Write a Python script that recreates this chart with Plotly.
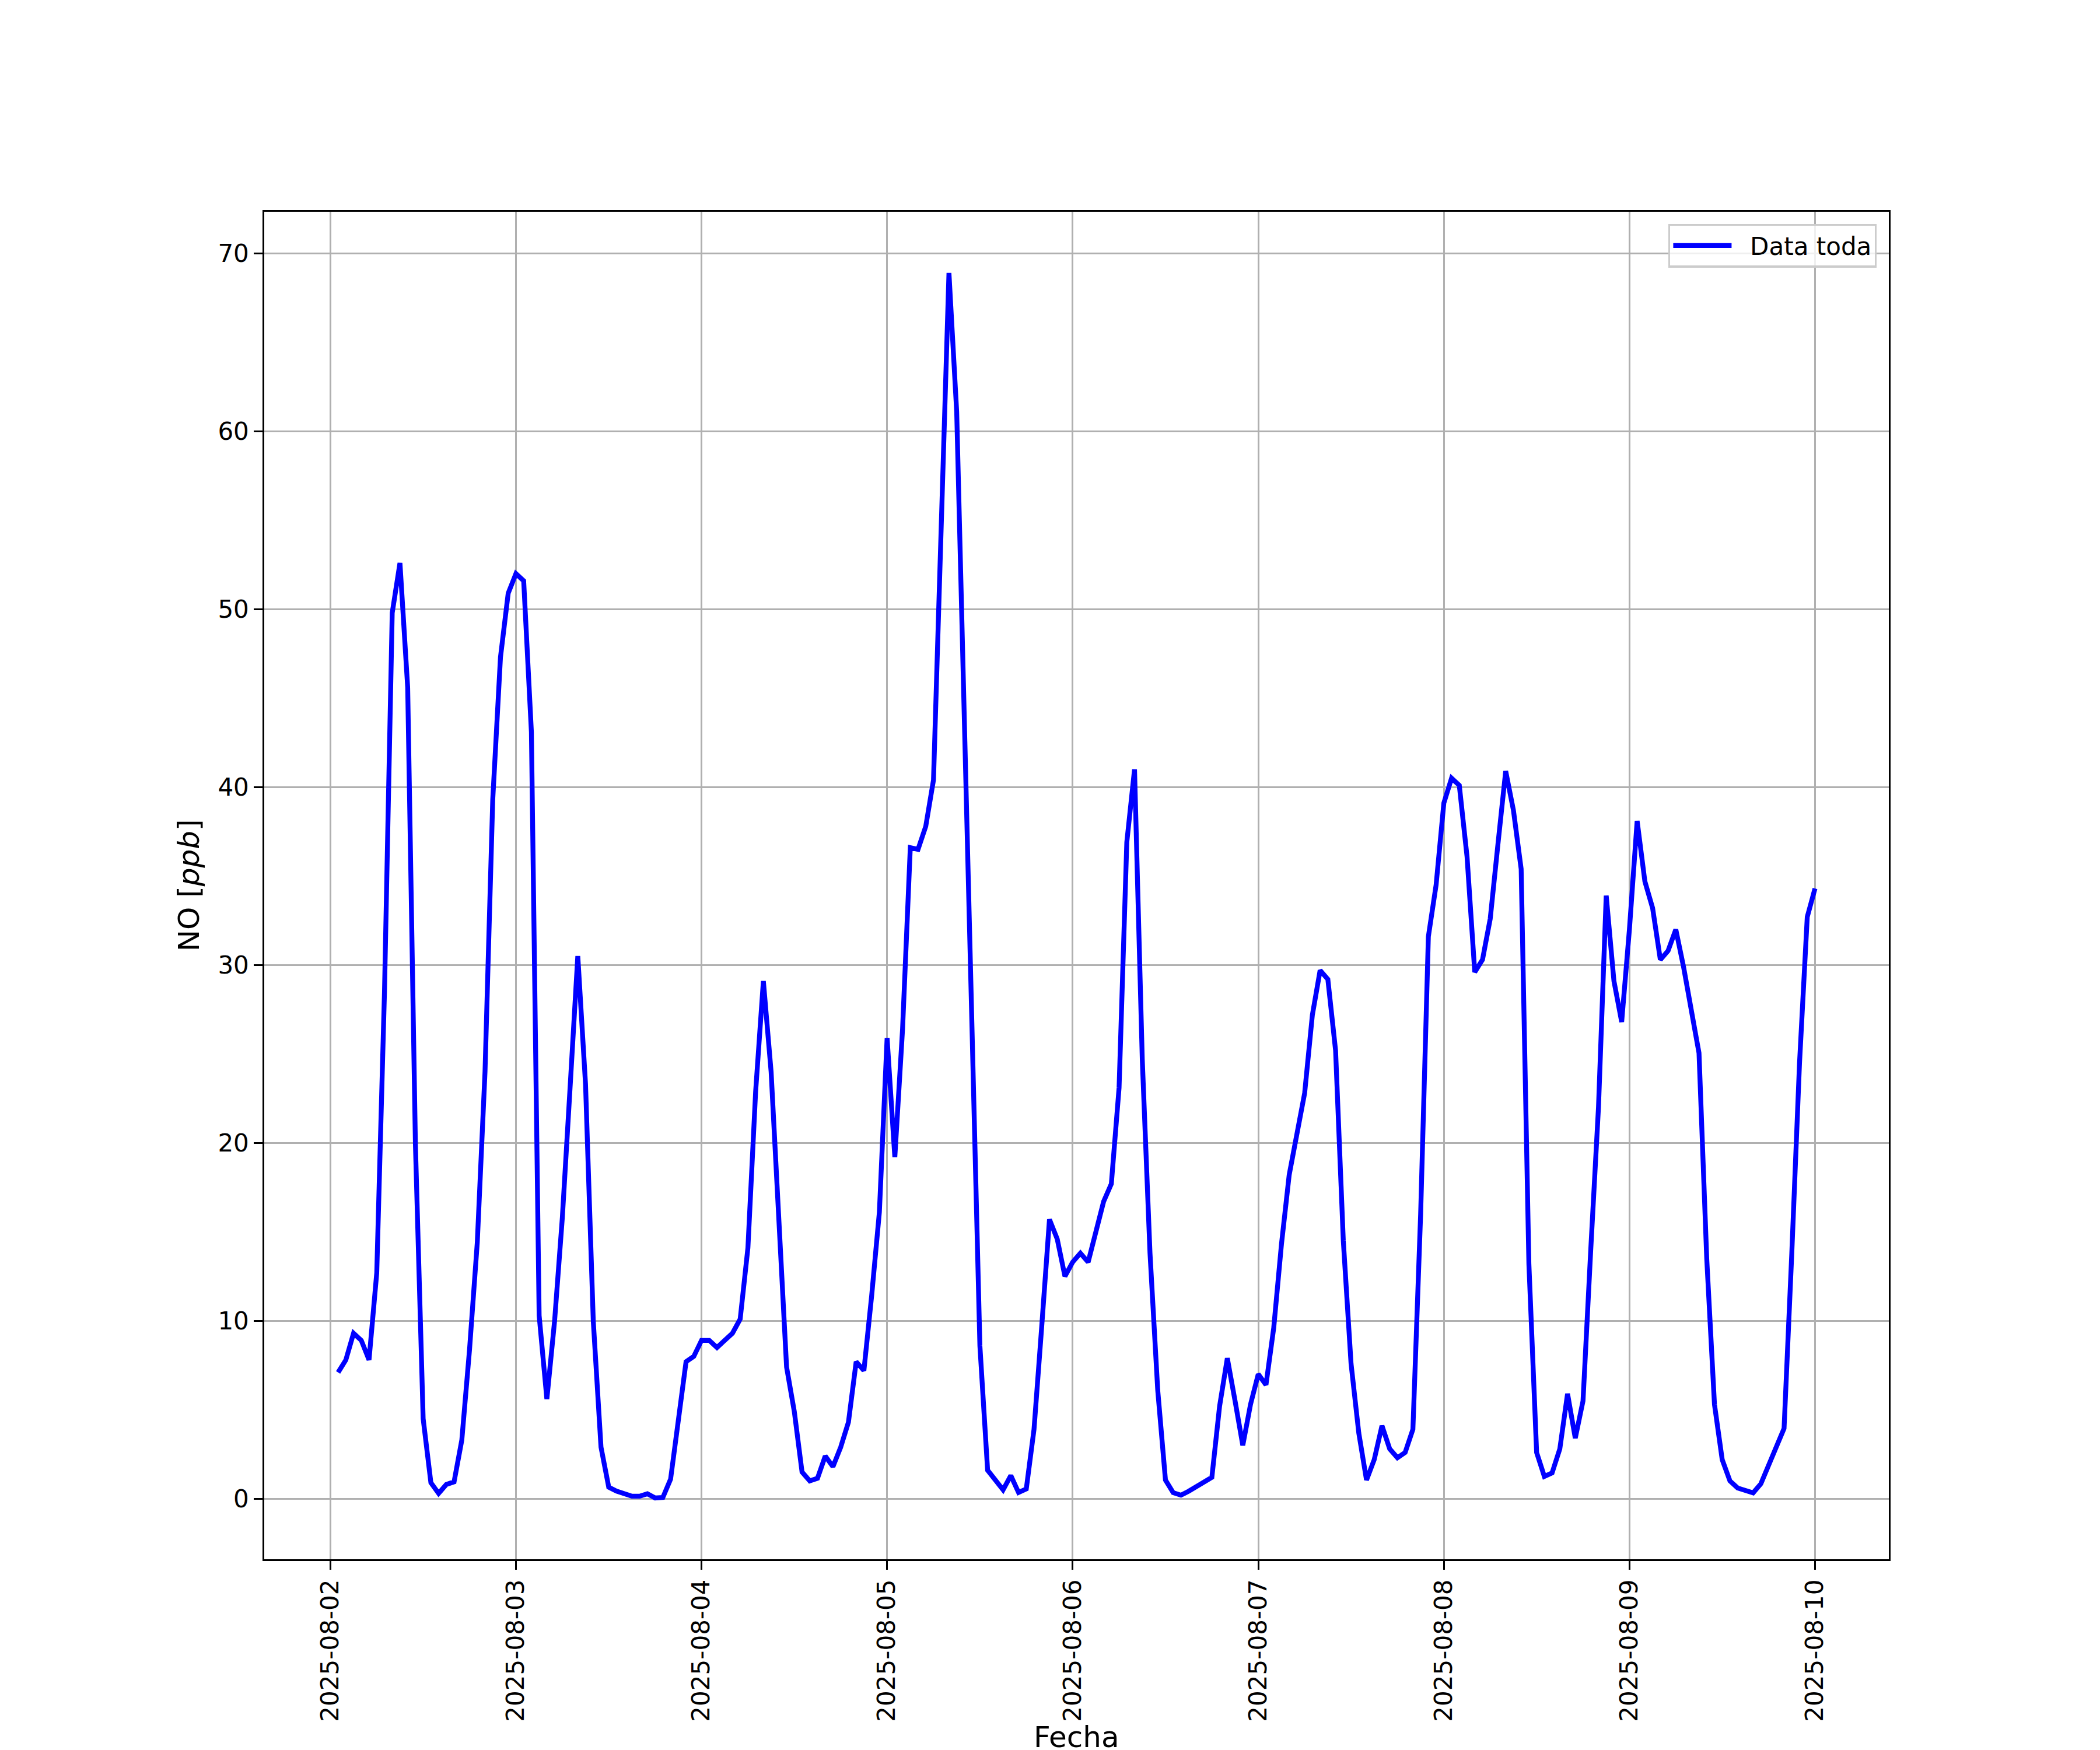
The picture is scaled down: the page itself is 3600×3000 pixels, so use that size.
import pandas as pd
import plotly.graph_objects as go

# NO [ppb] hourly readings, 2025-08-02 01:00 .. 2025-08-10 00:00 (24 values per day)
no_day1 = [7.1, 7.8, 9.3, 8.9, 7.8, 12.7, 28.5, 49.8, 52.6, 45.6, 19.9, 4.5,
           0.9, 0.3, 0.8, 0.95, 3.3, 8.4, 14.4, 24.0, 39.3, 47.3, 50.9, 52.0]
no_day2 = [51.6, 43.1, 10.3, 5.6, 10.0, 15.8, 23.1, 30.5, 23.3, 10.0, 2.9, 0.65,
           0.43, 0.25, 0.14, 0.14, 0.28, 0.04, 0.07, 1.1, 4.3, 7.7, 8.0, 8.9]
no_day3 = [8.9, 8.5, 8.9, 9.3, 10.1, 14.1, 22.9, 29.1, 24.0, 15.2, 7.4, 4.9,
           1.5, 1.0, 1.15, 2.4, 1.8, 2.9, 4.3, 7.7, 7.2, 11.4, 16.1, 25.9]
no_day4 = [19.2, 26.4, 36.6, 36.5, 37.8, 40.4, 54.8, 68.9, 61.1, 43.6, 26.1, 8.6,
           1.6, 1.0, 0.5, 1.3, 0.35, 0.55, 3.9, 9.7, 15.7, 14.6, 12.5, 13.3]
no_day5 = [13.8, 13.3, 14.9, 16.7, 17.7, 23.1, 36.9, 41.0, 24.7, 13.8, 6.1, 1.05,
           0.34, 0.2, 0.42, 0.68, 0.9, 1.2, 5.2, 7.9, 5.5, 3.0, 5.3, 7.0]
no_day6 = [6.4, 9.6, 14.3, 18.2, 20.5, 22.8, 27.2, 29.7, 29.2, 25.2, 14.5, 7.6,
           3.7, 1.05, 2.2, 4.1, 2.8, 2.3, 2.6, 3.9, 16.0, 31.6, 34.5, 39.1]
no_day7 = [40.5, 40.1, 36.1, 29.6, 30.3, 32.6, 36.8, 40.9, 38.7, 35.4, 13.2, 2.6,
           1.25, 1.45, 2.8, 5.9, 3.4, 5.5, 14.0, 22.0, 33.9, 29.1, 26.8, 32.0]
no_day8 = [38.1, 34.7, 33.2, 30.3, 30.8, 32.0, 29.9, 27.5, 25.05, 13.5, 5.3, 2.2,
           1.0, 0.6, 0.44, 0.33, 0.84, 1.9, 2.9, 3.95, 13.8, 24.5, 32.7, 34.3]

no_values = no_day1 + no_day2 + no_day3 + no_day4 + no_day5 + no_day6 + no_day7 + no_day8
fechas = pd.date_range('2025-08-02 01:00', periods=len(no_values), freq='h')
tick_dates = pd.date_range('2025-08-02', '2025-08-10', freq='D')
y_ticks = [0, 10, 20, 30, 40, 50, 60, 70]

FONT = 'DejaVu Sans'

# matplotlib-like autoscale margins (5%)
x_pad = (fechas[-1] - fechas[0]) * 0.05
y_pad = (max(no_values) - min(no_values)) * 0.05

fig = go.Figure()
fig.add_trace(go.Scatter(
    x=fechas, y=no_values, mode='lines', name='\u00a0\u00a0Data toda',
    line=dict(color='#0000ff', width=8.3)
))

axis_common = dict(
    showline=True, mirror=True, linecolor='black', linewidth=3.3,
    showgrid=True, gridcolor='#b0b0b0', gridwidth=3.3,
    ticks='outside', ticklen=14.6, tickwidth=3.3, tickcolor='black',
    tickfont=dict(family=FONT, size=42, color='black'),
    zeroline=False,
)

fig.update_xaxes(
    range=[fechas[0] - x_pad, fechas[-1] + x_pad],
    tickvals=tick_dates, ticktext=[d.strftime('%Y-%m-%d') for d in tick_dates],
    tickangle=-90, automargin=False, **axis_common
)
fig.update_yaxes(
    range=[min(no_values) - y_pad, max(no_values) + y_pad],
    tickvals=y_ticks, automargin=False, **axis_common
)

# axis titles placed like matplotlib's xlabel / ylabel
fig.add_annotation(text='Fecha', xref='paper', yref='paper', x=0.5, y=-0.132,
                   showarrow=False, yanchor='middle',
                   font=dict(family=FONT, size=50, color='black'))
fig.add_annotation(text='NO [<i>ppb</i>]', xref='paper', yref='paper', x=-0.0462, y=0.5,
                   showarrow=False, textangle=-90, xanchor='center', yanchor='middle',
                   font=dict(family=FONT, size=50, color='black'))

fig.update_layout(
    width=3600, height=3000, autosize=False,
    margin=dict(l=445, r=370, t=355, b=335),
    paper_bgcolor='white', plot_bgcolor='white',
    font=dict(family=FONT, size=42, color='black'),
    showlegend=True,
    legend=dict(
        x=0.9925, y=0.991, xanchor='right', yanchor='top',
        bgcolor='rgba(255,255,255,0.8)', bordercolor='#cccccc', borderwidth=3.3,
        itemwidth=100,
        font=dict(family=FONT, size=42, color='black'),
    ),
)

fig.write_html('out.html')
